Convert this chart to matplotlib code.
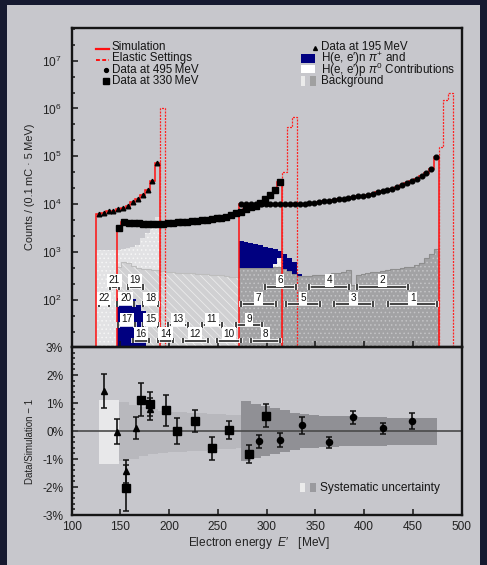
import numpy as np
import matplotlib
matplotlib.use('Agg')
import matplotlib.pyplot as plt
from matplotlib.patches import Rectangle
from matplotlib.lines import Line2D
import matplotlib.ticker as mticker
import matplotlib.patheffects as pe

plt.rcParams['font.family'] = ['Liberation Sans', 'DejaVu Sans']
plt.rcParams['mathtext.fontset'] = 'custom'
plt.rcParams['mathtext.rm'] = 'Liberation Sans'
plt.rcParams['mathtext.it'] = 'Liberation Sans:italic'
plt.rcParams['mathtext.bf'] = 'Liberation Sans:bold'
plt.rcParams['hatch.linewidth'] = 0.6

# ------------------------------------------------------------------ data
bin_width = 5.0
start195, start330, start495 = 125.5, 146.25, 271.5

data195 = [6310, 6610, 7080, 7410, 7940, 8510, 9330, 10960, 12880, 15850,
           19950, 30900, 72400]
data330 = [3240, 4170, 4120, 4070, 3980, 3890, 3800, 3800, 3850, 3890, 3980,
           4070, 4170, 4270, 4370, 4470, 4570, 4680, 4790, 4900, 5130, 5250,
           5500, 6030, 6460, 6920, 7940, 8710, 9330, 10700, 12900, 15500,
           19500, 28800]
data495 = [10190, 10190, 10190, 10190, 10190, 10190, 10190, 10190, 10190,
           10190, 10190, 10190, 10190, 10350, 10520, 10860, 11220, 11590,
           11870, 12250, 12660, 12970, 13390, 14050, 14620, 15220, 15960,
           16750, 17710, 18750, 19990, 21300, 22710, 25000, 27540, 30820,
           34450, 38540, 44550, 53950, 99100]

elastic195 = [1.0e6]
elastic330 = [48000, 410000, 650000]
elastic495 = [155000, 1.51e6, 2.09e6]

bg195 = [1120, 1120, 1120, 1120, 1130, 1150, 1200, 1300, 1420, 2000, 2530,
         3370, 5460]
bg330 = [500, 630, 590, 520, 465, 440,
         440, 430, 420, 410, 395, 385, 375, 365, 360, 360, 350, 345, 345,
         335, 335, 330, 320, 310, 310,
         310, 310, 315, 320, 330, 350, 380,
         420, 470]
bg495 = [465, 465, 465, 465, 465, 465, 465,
         500, 500,
         450, 400, 350, 320,
         320, 325, 330, 335, 340, 350, 360, 375, 395, 415,
         210, 335,
         350, 365, 380, 395, 410, 425,
         440, 450, 465, 480, 500, 540, 590, 750, 920, 1170]
pion330 = [110, 110, 120, 105, 80, 58]
pion495_top = [1700, 1600, 1520, 1450, 1380, 1300, 1230, 1150, 1060, 910,
               740, 610, 350]
pi0_330_tail = [575, 740]

# ratio bins (label 1..22)
bin_label = list(range(1, 23))
bin_lo = [425, 393, 369, 344, 320, 298, 274, 284, 269, 249, 234, 214, 199,
          189, 173, 163, 148, 173, 158, 147, 139, 128]
bin_hi = [475, 445, 409, 385, 355, 330, 310, 314, 295, 274, 254, 240, 219,
          204, 189, 179, 165, 189, 173, 164, 149, 138]
ratio_E = [449.4, 419.3, 389.2, 364.2, 336.9, 314.0, 291.8, 299.3, 281.8,
           261.3, 243.6, 226.5, 208.7, 196.7, 181.0, 170.8, 156.4, 181.0,
           166.0, 156.4, 146.2, 133.4]
ratio_val = [0.35, 0.09, 0.49, -0.41, 0.20, -0.33, -0.37, 0.55, -0.81, 0.04,
             -0.61, 0.35, 0.00, 0.74, 0.97, 1.12, -2.02, 0.79, 0.10, -1.44,
             -0.02, 1.43]
ratio_err = [0.28, 0.19, 0.23, 0.20, 0.31, 0.25, 0.23, 0.41, 0.32, 0.33,
             0.41, 0.40, 0.47, 0.55, 0.43, 0.60, 0.82, 0.40, 0.40, 0.42,
             0.45, 0.60]

band195_edges = [128.5, 148.75]
band195_up = [1.12]
band195_lo = [-1.17]
band330_edges = [148.75, 158.75, 168.75, 178.75, 188.75, 198.75, 208.75,
                 218.75, 228.75, 238.75, 248.75, 258.75, 268.75, 274.0]
band330_up = [1.04, 0.93, 0.84, 0.77, 0.73, 0.69, 0.67, 0.655, 0.64, 0.62,
              0.60, 0.58, 0.56]
band330_lo = [-1.08, -0.99, -0.90, -0.83, -0.79, -0.76, -0.74, -0.72, -0.70,
              -0.68, -0.66, -0.64, -0.62]
band495_edges = [274.0, 284, 294, 304, 314, 324, 334, 344, 354, 364, 374,
                 384, 394, 404, 414, 424, 434, 444, 454, 464, 474.5]
band495_up = [1.06, 0.98, 0.90, 0.82, 0.74, 0.66, 0.60, 0.56, 0.55, 0.54,
              0.53, 0.52, 0.51, 0.50, 0.49, 0.48, 0.48, 0.47, 0.47, 0.47]
band495_lo = [-1.06, -0.98, -0.90, -0.83, -0.76, -0.68, -0.62, -0.59, -0.57,
              -0.56, -0.55, -0.54, -0.54, -0.53, -0.52, -0.51, -0.51, -0.50,
              -0.50, -0.50]

count_ticks = [1e2, 1e3, 1e4, 1e5, 1e6, 1e7]
energy_ticks = [100, 150, 200, 250, 300, 350, 400, 450, 500]
ratio_ticks = [-3, -2, -1, 0, 1, 2, 3]

# ------------------------------------------------------------------ helpers
def edges(start, n):
    return start + bin_width * np.arange(n + 1)

def centers(start, n):
    return start + bin_width * (np.arange(n) + 0.5)

e195 = edges(start195, len(data195))
e330 = edges(start330, len(data330))
e495 = edges(start495, len(data495))
el195 = edges(e195[-1], len(elastic195))
el330 = edges(e330[-1], len(elastic330))
el495 = edges(e495[-1], len(elastic495))

# ------------------------------------------------------------------ figure
W, H = 487, 565
fig = plt.figure(figsize=(W / 100, H / 100), dpi=100)
fig.patch.set_facecolor('#161a30')
fig.patches.append(Rectangle((7 / W, 0), (480 - 7) / W, 1 - 5 / H,
                             transform=fig.transFigure, facecolor='#c7c7cc',
                             edgecolor='none', zorder=-5))

L, R = 71.5 / W, 461.5 / W
ytop, ymid, ybot_px = 27.5, 347.0, 515.0
ax = fig.add_axes([L, 1 - ymid / H, R - L, (ymid - ytop) / H])
ax2 = fig.add_axes([L, 1 - ybot_px / H, R - L, (ybot_px - ymid) / H], sharex=ax)
for a in (ax, ax2):
    a.set_facecolor('none')
    a.set_zorder(2)
    for s in a.spines.values():
        s.set_linewidth(1.7)
        s.set_color('#151515')
        s.set_zorder(10)

YB, YT = 10.5, 4.9e7
ax.set_yscale('log')
ax.set_ylim(YB, YT)
ax.set_xlim(100, 500)

BLUE = '#000080'
# backgrounds
ax.stairs(bg195, e195, baseline=YB, fill=True, facecolor='#e2e2e4',
          edgecolor='#f6f6f6', hatch='....', lw=0, zorder=1)
ax.stairs(bg330, e330, baseline=YB, fill=True, facecolor='#d0d0d2',
          edgecolor='#ebebeb', hatch='\\\\\\\\', lw=0, zorder=1.1)
ax.stairs(bg330, e330, baseline=None, color='#bdbdbd', lw=0.8, zorder=1.15)
ax.stairs(bg495, e495, baseline=YB, fill=True, facecolor='#a2a2a4',
          edgecolor='#c4c4c6', hatch='....', lw=0, zorder=1.2)
ax.stairs(bg495, e495, baseline=None, color='#8e8e8e', lw=0.8, zorder=1.25)
# pion contributions
n_b = len(pion495_top)
ax.stairs(pion495_top, e495[:n_b + 1], baseline=bg495[:n_b], fill=True,
          color=BLUE, lw=0, zorder=1.3)
ax.stairs(pi0_330_tail, e330[-3:], baseline=bg495[7:9], fill=True,
          facecolor='#f2f2f2', edgecolor='#d8d8d8', hatch='....', lw=0,
          zorder=1.35)
ax.stairs(pion330, e330[:len(pion330) + 1], baseline=YB, fill=True,
          color=BLUE, lw=0, zorder=1.4)

# simulation & elastic
for d, e in ((data195, e195), (data330, e330), (data495, e495)):
    ax.stairs(d, e, baseline=YB, color='#ff1010', lw=1.1, zorder=3)
for d, e in ((elastic195, el195), (elastic330, el330), (elastic495, el495)):
    ax.stairs(d, e, baseline=YB, color='#ff2020', lw=0.9,
              linestyle=(0, (1.6, 1.0)), zorder=3)

# data
ax.plot(centers(start195, len(data195)), data195, '^', color='black', ms=3.3,
        zorder=4)
ax.plot(centers(start330, len(data330)), data330, 's', color='black', ms=4.2,
        zorder=4)
ax.plot(centers(start495, len(data495)), data495, 'o', color='black', ms=3.4,
        zorder=4)

# bin brackets with labels
row_bar = [0.187, 0.1346, 0.0689, 0.0197]
row_lab = [0.2097, 0.153, 0.0867, 0.0407]
trans = ax.get_xaxis_transform()
halo = [pe.withStroke(linewidth=2.6, foreground='white')]
for lab, lo, hi in zip(bin_label, bin_lo, bin_hi):
    if lab <= 7:
        row = 1 if lab % 2 else 0
    elif lab <= 17:
        row = 3 if lab % 2 == 0 else 2
    else:
        row = 1 if lab % 2 == 0 else 0
    yb = row_bar[row]
    ax.plot([lo, hi], [yb, yb], transform=trans, color='#111111', lw=1.1,
            solid_capstyle='butt', path_effects=halo, zorder=5, clip_on=False)
    ax.plot([lo, hi], [yb, yb], '|', transform=trans, color='#111111',
            ms=4, mew=1.1, path_effects=halo, zorder=5, clip_on=False)
    ax.text((lo + hi) / 2, row_lab[row], str(lab), transform=trans,
            ha='center', va='center', fontsize=7.2, color='#111111', zorder=6,
            bbox=dict(boxstyle='square,pad=0.15', fc='white', ec='none'))

# ticks
ax.yaxis.set_major_locator(mticker.FixedLocator(count_ticks))
ax.yaxis.set_major_formatter(mticker.LogFormatterSciNotation())
ax.yaxis.set_minor_locator(mticker.FixedLocator(
    [10 ** (k / 3) for k in range(4, 24) if k % 3]))
ax.yaxis.set_minor_formatter(mticker.NullFormatter())
ax.xaxis.set_major_locator(mticker.FixedLocator(energy_ticks))
ax.tick_params(axis='both', which='both', direction='in', top=False,
               right=False, width=1.1, colors='#151515', labelsize=8.6)
ax.tick_params(axis='both', which='major', length=4)
ax.tick_params(axis='both', which='minor', length=2.5)
ax.tick_params(axis='y', pad=7, labelcolor='#222222')
ax.tick_params(axis='x', labelbottom=False)

# legend (top)
tA = ax.transAxes
fs = 8.4
rows = [0.9399, 0.9036, 0.8670, 0.8335]
ax.add_line(Line2D([0.0628, 0.0974], [rows[0] - 0.006] * 2, transform=tA,
                   color='#ff1010', lw=1.6, zorder=7))
ax.add_line(Line2D([0.0628, 0.0974], [rows[1] - 0.006] * 2, transform=tA,
                   color='#ff1010', lw=1.4, ls=(0, (2, 1.2)), zorder=7))
ax.add_line(Line2D([0.0885], [rows[2]], transform=tA, marker='o', ms=2.8,
                   color='black', ls='none', zorder=7))
ax.add_line(Line2D([0.0885], [rows[3]], transform=tA, marker='s', ms=4.0,
                   color='black', ls='none', zorder=7))
for y, t in zip(rows, ['Simulation', 'Elastic Settings',
                       'Data at 495\u2009MeV', 'Data at 330\u2009MeV']):
    ax.text(0.1038, y, t, transform=tA, fontsize=fs, va='center', ha='left',
            color='#151515', zorder=7)
ax.add_line(Line2D([0.6244], [rows[0] - 0.004], transform=tA, marker='^',
                   ms=2.8, color='black', ls='none', zorder=7))
ax.add_patch(Rectangle((0.5885, 0.8899), 0.0359, 0.0262, transform=tA,
                       facecolor=BLUE, edgecolor='none', zorder=7))
ax.add_patch(Rectangle((0.5885, 0.8566), 0.0359, 0.0251, transform=tA,
                       facecolor='white', edgecolor='none', zorder=7))
ax.add_patch(Rectangle((0.5885, 0.8169), 0.0102, 0.0313, transform=tA,
                       facecolor='#ebebeb', edgecolor='none', zorder=7))
ax.add_patch(Rectangle((0.6115, 0.8169), 0.0147, 0.0313, transform=tA,
                       facecolor='#a0a0a0', edgecolor='none', zorder=7))
for y, t in zip(rows, ['Data at 195\u2009MeV',
                       'H(e, e\u2032)n $\\pi^{+}$ and',
                       'H(e, e\u2032)p $\\pi^{0}$ Contributions',
                       'Background']):
    ax.text(0.639, y, t, transform=tA, fontsize=fs, va='center', ha='left',
            color='#151515', zorder=7)

# ------------------------------------------------------------------ ratio
ax2.set_ylim(-3, 3)
ax2.stairs(band195_up, band195_edges, baseline=band195_lo, fill=True,
           color='#e8e8ea', lw=0, zorder=1)
ax2.stairs(band330_up, band330_edges, baseline=band330_lo, fill=True,
           color='#b8b8bd', lw=0, zorder=1)
ax2.stairs(band495_up, band495_edges, baseline=band495_lo, fill=True,
           color='#909095', lw=0, zorder=1)
ax2.axhline(0, color='#4a4a4a', lw=1.2, zorder=2)

ratio_E = np.array(ratio_E)
ratio_val = np.array(ratio_val)
ratio_err = np.array(ratio_err)
lab = np.array(bin_label)
ax2.errorbar(ratio_E, ratio_val, yerr=ratio_err, fmt='none', ecolor='#111111',
             elinewidth=1.2, capsize=2.0, capthick=1.1, zorder=3)
groups = [(lab <= 7, 'o', 4.4), ((lab > 7) & (lab <= 17), 's', 5.4),
          (lab > 17, '^', 4.4)]
for m, mk, ms in groups:
    ax2.plot(ratio_E[m], ratio_val[m], mk, color='black', ms=ms, zorder=4)

ax2.yaxis.set_major_locator(mticker.FixedLocator(ratio_ticks))
ax2.yaxis.set_minor_locator(mticker.MultipleLocator(0.2))
ax2.yaxis.set_major_formatter(mticker.FuncFormatter(
    lambda v, p: f"{int(round(v))}%"))
ax2.tick_params(axis='both', which='both', direction='in', top=False,
                right=False, width=1.1, colors='#151515', labelsize=8.6)
ax2.tick_params(axis='both', which='major', length=4)
ax2.tick_params(axis='both', which='minor', length=2.2)
ax2.tick_params(axis='y', pad=6, labelcolor='#222222')
ax2.tick_params(axis='x', pad=4, labelcolor='#222222')
ax2.xaxis.set_minor_locator(mticker.NullLocator())

tB = ax2.transAxes
ax2.add_patch(Rectangle((0.5859, 0.1387), 0.0128, 0.05, transform=tB,
                        facecolor='#ebebeb', edgecolor='none', zorder=5))
ax2.add_patch(Rectangle((0.6115, 0.1387), 0.0154, 0.05, transform=tB,
                        facecolor='#9a9a9e', edgecolor='none', zorder=5))
ax2.text(0.6372, 0.1625, 'Systematic uncertainty', transform=tB, fontsize=8.6,
         va='center', ha='left', color='#151515', zorder=5)

# axis labels
fig.text(30 / W, 1 - 186.5 / H, 'Counts / (0.1\u2009mC \u00b7 5\u2009MeV)',
         rotation=90, ha='center', va='center', fontsize=7.9, color='#222222')
fig.text(30 / W, 1 - 441.5 / H, 'Data/Simulation \u2212 1', rotation=90,
         ha='center', va='center', fontsize=7.0, color='#222222')
fig.text(258.8 / W, 1 - 543 / H, 'Electron energy  $E$\u2032   [MeV]',
         ha='center', va='center', fontsize=8.6, color='#222222')

fig.savefig('out.png', dpi=100, facecolor=fig.get_facecolor())
